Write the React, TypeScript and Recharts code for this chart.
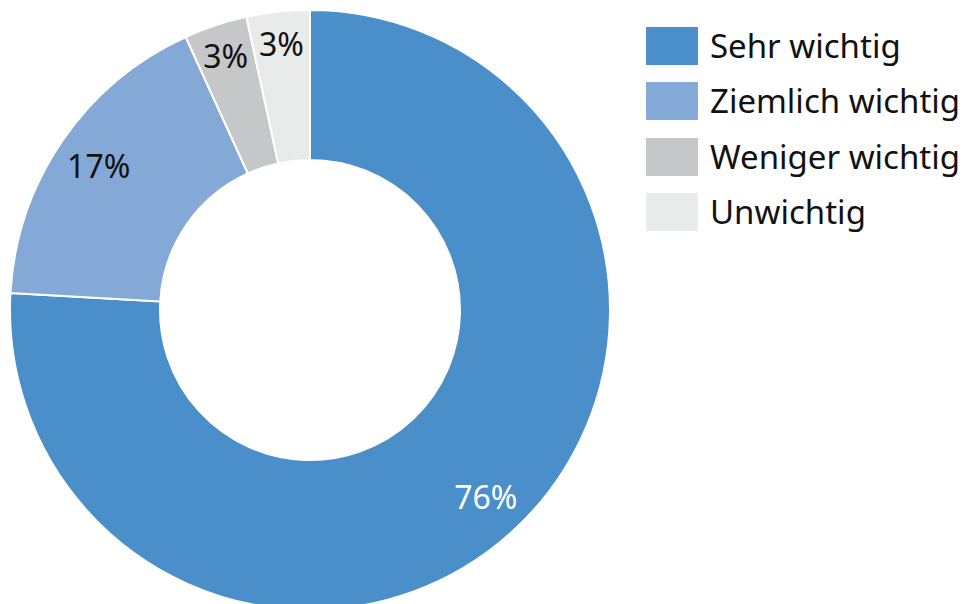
import { PieChart, Pie, Cell, Legend } from 'recharts';

const categories = ['Sehr wichtig', 'Ziemlich wichtig', 'Weniger wichtig', 'Unwichtig'];
const shares = [75.9, 17.3, 3.4, 3.4];
const COLORS = ['#4a8fca', '#84a9d7', '#c6c7c9', '#e9eaea'];
const LABEL_COLORS = ['#ffffff', '#111111', '#111111', '#111111'];

const data = categories.map((name, i) => ({ name, value: shares[i] }));

const FONT = '"Noto Sans", "Open Sans", sans-serif';
const RAD = Math.PI / 180;

const renderLabel = (props: any) => {
  const { cx, cy, midAngle, outerRadius, percent, index, value } = props;
  const r = outerRadius - (percent < 0.05 ? 32 : 44);
  const x = cx + r * Math.cos(-midAngle * RAD);
  const y = cy + r * Math.sin(-midAngle * RAD);
  return (
    <text
      x={x}
      y={y}
      fill={LABEL_COLORS[index]}
      textAnchor="middle"
      dominantBaseline="central"
      fontSize={32}
      fontFamily={FONT}
    >
      {`${Math.round(value)}%`}
    </text>
  );
};

const renderLegend = () => (
  <div style={{ fontFamily: FONT }}>
    {categories.map((name, i) => (
      <div key={name} style={{ display: 'flex', alignItems: 'center', height: 55.5 }}>
        <div style={{ width: 52, height: 38, background: COLORS[i], marginRight: 12 }} />
        <span style={{ fontSize: 33, color: '#111', lineHeight: '38px' }}>{name}</span>
      </div>
    ))}
  </div>
);

export default function App() {
  return (
    <div style={{ position: 'absolute', left: 0, top: 0, width: 970, height: 604, background: '#fff' }}>
      <PieChart width={970} height={604} margin={{ top: 0, right: 0, bottom: 0, left: 0 }}>
        <Pie
          data={data}
          dataKey="value"
          nameKey="name"
          cx={310}
          cy={310}
          innerRadius={150}
          outerRadius={300}
          startAngle={90}
          endAngle={-270}
          stroke="#ffffff"
          strokeWidth={2}
          labelLine={false}
          label={renderLabel}
          isAnimationActive={false}
        >
          {data.map((entry, i) => (
            <Cell key={entry.name} fill={COLORS[i]} />
          ))}
        </Pie>
        <Legend
          content={renderLegend}
          wrapperStyle={{ left: 646, top: 18, width: 324 }}
        />
      </PieChart>
    </div>
  );
}
